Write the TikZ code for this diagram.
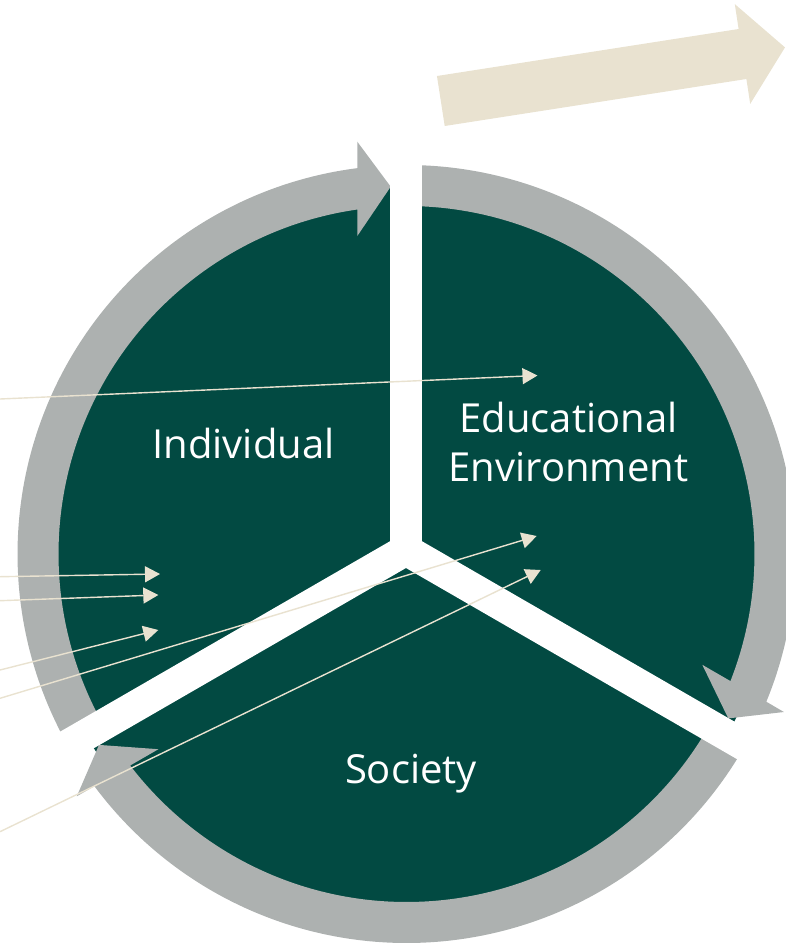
\documentclass[tikz,border=0pt]{standalone}
\usepackage{fontspec}
\newfontfamily\lblfont{Open Sans}
\usetikzlibrary{arrows.meta}
\definecolor{ringgreen}{HTML}{024A42}
\definecolor{ringgray}{HTML}{ADB1B0}
\definecolor{sand}{HTML}{E9E2D0}
\begin{document}
\begin{tikzpicture}[x=1pt,y=1pt,
  lbl/.style={font=\lblfont\fontsize{40}{49}\selectfont, text=white, inner sep=0pt, align=center},
  ringarrow/.style={fill=ringgray},
  gapband/.style={draw=white, line width=31.2pt},
  pointer/.style={draw=sand, line width=1.4pt, -{Triangle[length=15pt,width=16pt]}},
]
\useasboundingbox (0,0) rectangle (785,-943);

% centre of the ring and centre of the three-way split
\coordinate (O) at (406.5,-554);
\coordinate (G) at (406,-550);

% dark disc behind the three sectors
\fill[ringgreen] (O) circle[radius=368];

% circular arrow around "Individual"
\fill[ringarrow] ([shift={(209.5:389)}]O) arc[start angle=209.5, end angle=97.27, radius=389]
  -- (357.3,-141.7) -- (390.7,-186.7) -- (357.3,-236)
  -- ([shift={(98.13:348)}]O) arc[start angle=98.13, end angle=209.5, radius=348] -- cycle;

% circular arrow around "Educational Environment"
\fill[ringarrow] ([shift={(90:389)}]O) arc[start angle=90, end angle=-22.32, radius=389]
  -- (783.9,-712) -- (728.3,-718.4) -- (702.3,-664.8)
  -- ([shift={(-21.42:348)}]O) arc[start angle=-21.42, end angle=90, radius=348] -- cycle;

% circular arrow around "Society"
\fill[ringarrow] ([shift={(-29.5:389)}]O) arc[start angle=-29.5, end angle=-143.36, radius=389]
  -- (76.8,-796.3) -- (99,-744.9) -- (158.4,-749.2)
  -- ([shift={(-142.57:348)}]O) arc[start angle=-142.57, end angle=-29.5, radius=348] -- cycle;

% white gaps between the sectors
\path (G) ++(90:450) coordinate (gapN);
\path (G) ++(210:450) coordinate (gapSW);
\path (G) ++(-30:450) coordinate (gapSE);
\draw[gapband] (G) -- (gapN);
\draw[gapband] (G) -- (gapSW);
\draw[gapband] (G) -- (gapSE);

% sector labels (base anchor sits on the last line)
\node[lbl, anchor=base] (ind) at (243.5,-458) {Individual};
\node[lbl, anchor=base] (env) at (568.5,-481) {Educational\\Environment};
\node[lbl, anchor=base] (soc) at (411,-783) {Society};

% incoming pointers
\coordinate (s1) at (0,-399);
\coordinate (s2) at (0,-576.7);
\coordinate (s3) at (0,-600.7);
\coordinate (s4) at (0,-670);
\coordinate (s5) at (0,-698.3);
\coordinate (s6) at (0,-831.7);
\coordinate (t1) at (537.5,-375.5);
\coordinate (t2) at (160,-574);
\coordinate (t3) at (158.3,-595);
\coordinate (t4) at (158.3,-630);
\coordinate (t5) at (536.7,-536);
\coordinate (t6) at (540.7,-570);
\draw[pointer] (s1) -- (t1);
\draw[pointer] (s2) -- (t2);
\draw[pointer] (s3) -- (t3);
\draw[pointer] (s4) -- (t4);
\draw[pointer] (s5) -- (t5);
\draw[pointer] (s6) -- (t6);

% broad arrow at the top right
\fill[sand] (436.95,-76) -- (738.6,-29) -- (734.8,-4.1) -- (785,-47.4)
  -- (750.2,-103.9) -- (746.4,-79) -- (444.7,-126) -- cycle;
\end{tikzpicture}
\end{document}
